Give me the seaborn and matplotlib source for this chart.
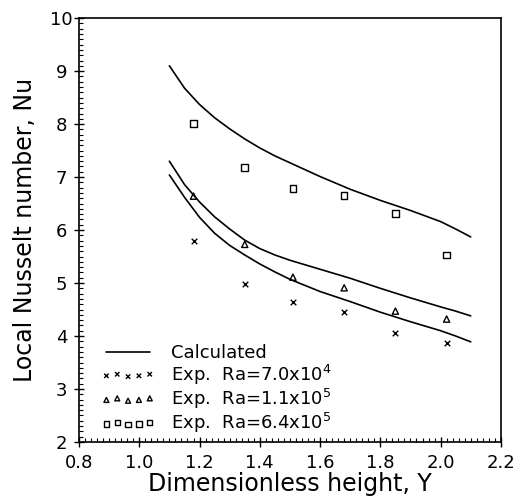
import numpy as np
import pandas as pd
import matplotlib
matplotlib.use("Agg")
import matplotlib.pyplot as plt
import seaborn as sns
from matplotlib.ticker import MultipleLocator, FormatStrFormatter

# calculated curves
y_calc = [1.1, 1.15, 1.2, 1.25, 1.3, 1.35, 1.4, 1.45, 1.5, 1.6, 1.7, 1.8, 1.9, 2.0, 2.05, 2.1]
nu_calc_low = [7.04, 6.62, 6.24, 5.94, 5.71, 5.53, 5.36, 5.21, 5.07, 4.84, 4.65, 4.45, 4.27, 4.10, 4.00, 3.89]
nu_calc_mid = [7.30, 6.86, 6.53, 6.25, 6.02, 5.81, 5.65, 5.53, 5.43, 5.26, 5.09, 4.90, 4.72, 4.55, 4.47, 4.38]
nu_calc_high = [9.10, 8.68, 8.37, 8.12, 7.91, 7.72, 7.55, 7.40, 7.27, 7.01, 6.77, 6.56, 6.37, 6.16, 6.02, 5.87]

# experimental points
y_exp = [1.18, 1.35, 1.51, 1.68, 1.85, 2.02]
nu_exp_70e4 = [5.79, 4.99, 4.65, 4.46, 4.06, 3.86]
nu_exp_11e5 = [6.64, 5.73, 5.11, 4.91, 4.47, 4.32]
nu_exp_64e5 = [8.01, 7.18, 6.78, 6.65, 6.31, 5.53]

labels = ["Calculated",
          r"Exp.  Ra=7.0x10$^4$",
          r"Exp.  Ra=1.1x10$^5$",
          r"Exp.  Ra=6.4x10$^5$"]

sns.set_style("ticks")
plt.rcParams['font.family'] = ['DejaVu Sans']
plt.rcParams['text.color'] = 'black'
plt.rcParams['axes.labelcolor'] = 'black'
plt.rcParams['xtick.color'] = 'black'
plt.rcParams['ytick.color'] = 'black'
plt.rcParams['axes.edgecolor'] = 'black'

fig = plt.figure(figsize=(5.17, 5.01), dpi=100)
ax = fig.add_axes([0.1528, 0.1178, 0.816, 0.846])

n = len(y_calc)
calc = pd.DataFrame({"Y": y_calc * 3,
                     "Nu": nu_calc_low + nu_calc_mid + nu_calc_high,
                     "run": ["low"] * n + ["mid"] * n + ["high"] * n})
sns.lineplot(data=calc, x="Y", y="Nu", units="run", estimator=None,
             color="black", linewidth=1.2, ax=ax, legend=False)

sns.scatterplot(x=y_exp, y=nu_exp_70e4, marker="x", s=16, color="black",
                linewidth=1.0, ax=ax)
sns.scatterplot(x=y_exp, y=nu_exp_11e5, marker="^", s=20, facecolor="none",
                edgecolor="black", linewidth=1.0, ax=ax)
sns.scatterplot(x=y_exp, y=nu_exp_64e5, marker="s", s=22, facecolor="none",
                edgecolor="black", linewidth=1.0, ax=ax)

ax.set_xlim(0.8, 2.2)
ax.set_ylim(2, 10)
ax.xaxis.set_major_locator(MultipleLocator(0.2))
ax.xaxis.set_minor_locator(MultipleLocator(0.02))
ax.yaxis.set_major_locator(MultipleLocator(1))
ax.yaxis.set_minor_locator(MultipleLocator(0.1))
ax.xaxis.set_major_formatter(FormatStrFormatter("%.1f"))
ax.tick_params(which="major", direction="inout", length=7, width=1.0,
               color="black", labelsize=13, bottom=True, left=True,
               top=False, right=False)
ax.tick_params(axis="x", which="major", pad=5)
ax.tick_params(axis="y", which="major", pad=9)
ax.tick_params(which="minor", direction="in", length=3, width=0.8,
               color="black", bottom=True, left=True, top=False, right=False)
for lab in ax.get_yticklabels():
    lab.set_horizontalalignment("center")
for sp in ax.spines.values():
    sp.set_visible(True)
    sp.set_linewidth(1.2)
    sp.set_color("black")

ax.set_xlabel("Dimensionless height, Y", fontsize=17, labelpad=0)
ax.set_ylabel("Local Nusselt number, Nu", fontsize=17, labelpad=0)
ax.yaxis.set_label_coords(-0.10, 0.5)

handles = [ax.lines[0]] + list(ax.collections[:3])
leg = ax.legend(handles, labels, loc="lower left", bbox_to_anchor=(0.035, 0.0),
                frameon=False, fontsize=13, numpoints=5, scatterpoints=5,
                markerscale=0.8, handlelength=3.0, handletextpad=0.9,
                labelspacing=0.0, borderaxespad=0.0)

fig.savefig("out.png", dpi=100)
